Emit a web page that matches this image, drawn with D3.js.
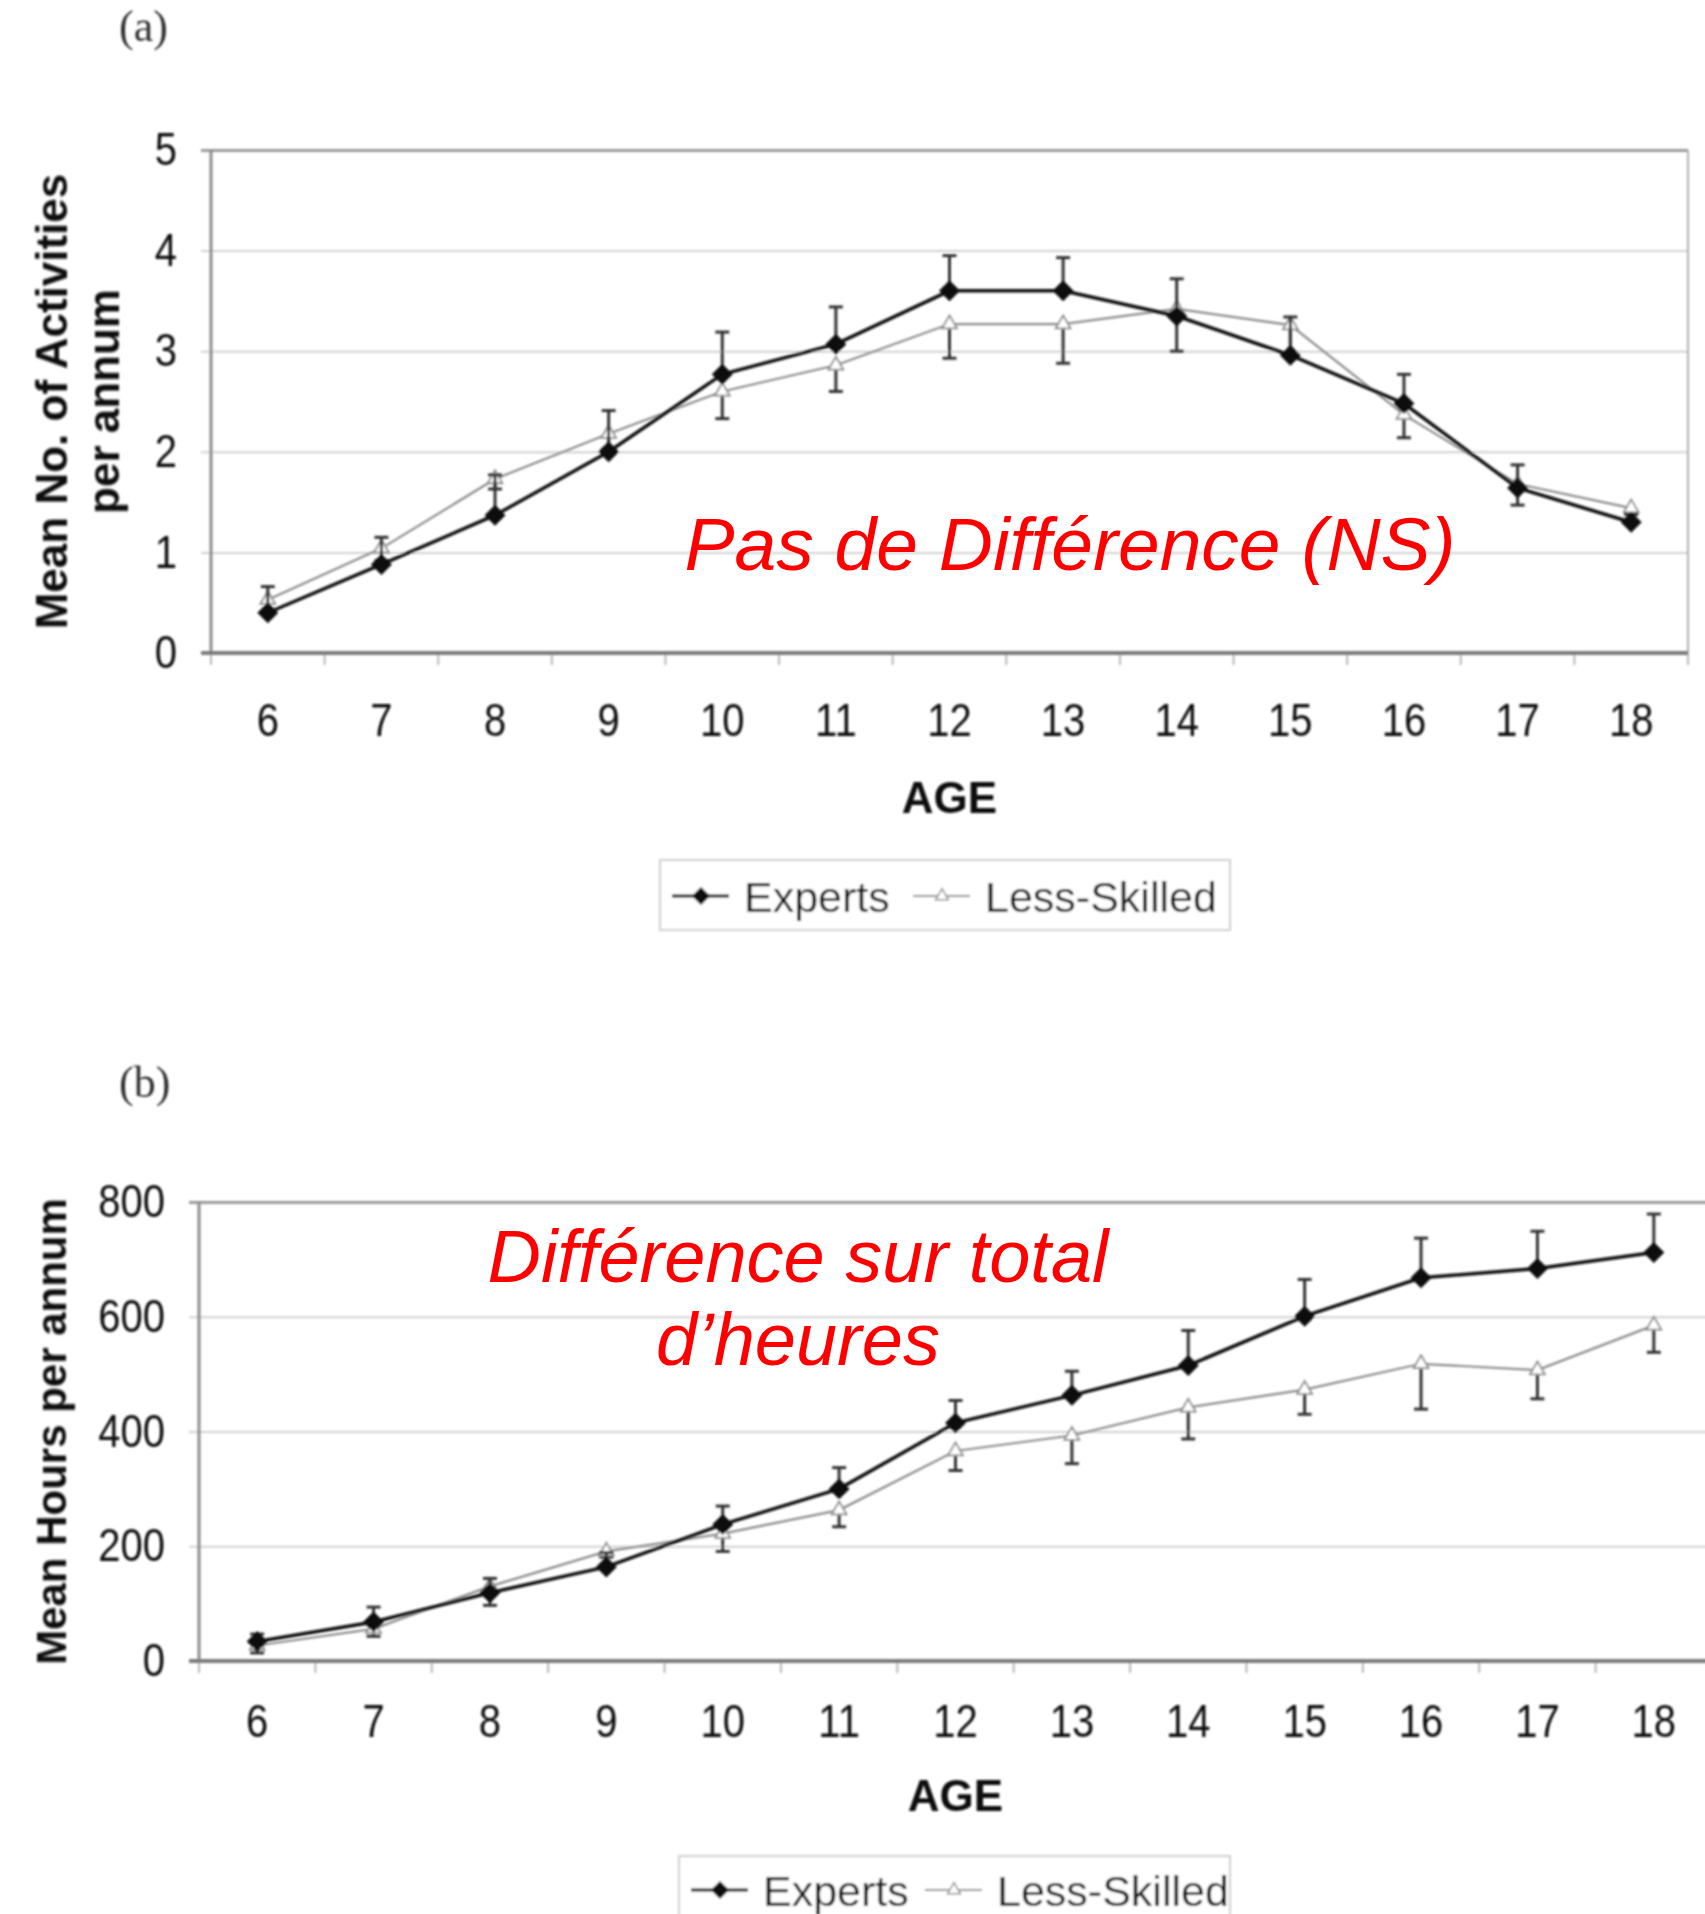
<!DOCTYPE html>
<html>
<head>
<meta charset="utf-8">
<script src="https://cdn.jsdelivr.net/npm/d3@7"></script>
<style>
  body { margin: 0; background: #fff; }
  svg { display: block; }
</style>
</head>
<body>
<script>
// ages on the x axis (both panels)
const ages = ["6", "7", "8", "9", "10", "11", "12", "13", "14", "15", "16", "17", "18"];
const seriesNames = ["Experts", "Less-Skilled"];

// panel (a): mean number of activities per annum
const activityTicks = [0, 1, 2, 3, 4, 5];
const expertsActivities = [0.4, 0.88, 1.37, 2.0, 2.77, 3.07, 3.6, 3.6, 3.35, 2.96, 2.48, 1.64, 1.3];
const expertsActivitiesErr = [0.26, 0.27, 0.4, 0.41, 0.42, 0.37, 0.35, 0.33, 0.37, 0.38, 0.29, 0.23, 0.08];
const lessActivities = [0.53, 1.04, 1.73, 2.18, 2.6, 2.86, 3.27, 3.27, 3.42, 3.26, 2.37, 1.68, 1.44];
const lessActivitiesErr = [0.15, 0.12, 0.1, 0.15, 0.27, 0.26, 0.34, 0.39, 0.42, 0.3, 0.23, 0.21, 0.06];

// panel (b): mean hours per annum
const hoursTicks = [0, 200, 400, 600, 800];
const expertsHours = [34, 68, 119, 164, 238, 300, 415, 463, 515, 601, 668, 684, 712];
const expertsHoursErr = [13, 26, 25, 25, 32, 37, 39, 42, 61, 64, 69, 65, 67];
const lessHours = [27, 56, 130, 191, 222, 263, 366, 393, 442, 473, 518, 507, 585];
const lessHoursErr = [13, 13, 33, 10, 31, 29, 34, 49, 55, 43, 79, 50, 47];

const W = 1705, H = 1914;
const svg = d3.select("body").append("svg").attr("width", W).attr("height", H);

// the scanned figure is a bit soft, blur the chart parts slightly
svg.append("defs").append("filter").attr("id", "soft")
    .append("feGaussianBlur").attr("stdDeviation", 0.9);

function drawPanel(p) {
    const x = d3.scaleBand().domain(ages).range([p.left, p.right]);
    const y = d3.scaleLinear().domain([0, p.max]).range([p.bottom, p.top]);
    const cx = function(a) { return x(a) + x.bandwidth() / 2; };

    const g = svg.append("g").attr("filter", "url(#soft)");

    // panel letter
    g.append("text")
        .attr("x", p.letterX).attr("y", p.letterY)
        .attr("font-family", "Liberation Serif").attr("font-size", 44)
        .attr("fill", "#333").text(p.letter);

    // y axis + gridlines
    const yAxis = g.append("g")
        .attr("transform", "translate(" + p.left + ",0)")
        .call(d3.axisLeft(y).tickValues(p.ticks)
            .tickSizeInner(-(p.right - p.left)).tickSizeOuter(0)
            .tickPadding(p.yPad).tickFormat(d3.format("d")));
    yAxis.select(".domain").remove();
    yAxis.selectAll(".tick line")
        .attr("x1", -10)
        .attr("stroke", function(d) { return d === p.max ? "#9a9a9a" : "#d0d0d0"; })
        .attr("stroke-width", function(d) { return d === p.max ? 3 : 2; });
    yAxis.selectAll(".tick text")
        .attr("font-family", "Liberation Sans").attr("font-size", 46)
        .attr("fill", "#111")
        .attr("x", -p.yPad / 0.87)
        .attr("transform", "scale(0.87,1)");

    // frame
    g.append("line")
        .attr("x1", p.left).attr("x2", p.left).attr("y1", p.top).attr("y2", p.bottom)
        .attr("stroke", "#8c8c8c").attr("stroke-width", 3);
    g.append("line")
        .attr("x1", p.right).attr("x2", p.right).attr("y1", p.top).attr("y2", p.bottom)
        .attr("stroke", "#b0b0b0").attr("stroke-width", 2);

    // x axis
    const xAxis = g.append("g")
        .attr("transform", "translate(0," + p.bottom + ")")
        .call(d3.axisBottom(x).tickSize(0).tickPadding(p.xPad));
    xAxis.select(".domain").remove();
    xAxis.selectAll(".tick text")
        .attr("font-family", "Liberation Sans").attr("font-size", 46)
        .attr("fill", "#111")
        .attr("transform", "scale(0.87,1)");

    // small ticks between categories
    const edges = ages.map(function(a) { return x(a); }).concat([p.right]);
    g.selectAll(null).data(edges).enter().append("line")
        .attr("x1", function(d) { return d; }).attr("x2", function(d) { return d; })
        .attr("y1", p.bottom).attr("y2", p.bottom + 12)
        .attr("stroke", "#b8b8b8").attr("stroke-width", 2);

    g.append("line")
        .attr("x1", p.left - 10).attr("x2", p.right)
        .attr("y1", p.bottom).attr("y2", p.bottom)
        .attr("stroke", "#7a7a7a").attr("stroke-width", 4);

    // axis titles
    g.append("text")
        .attr("x", (p.left + p.right) / 2 + p.ageShift).attr("y", p.ageY)
        .attr("text-anchor", "middle")
        .attr("font-family", "Liberation Sans").attr("font-weight", "bold")
        .attr("font-size", 44).attr("fill", "#111").text("AGE");

    p.yTitle.forEach(function(t, i) {
        g.append("text")
            .attr("transform", "translate(" + p.yTitleX[i] + "," + ((p.top + p.bottom) / 2) + ") rotate(-90)")
            .attr("text-anchor", "middle")
            .attr("font-family", "Liberation Sans").attr("font-weight", "bold")
            .attr("font-size", p.yTitleSize).attr("fill", "#111").text(t);
    });

    // series: less-skilled first, experts on top
    const series = [
        { values: p.less, err: p.lessErr, dir: -1, color: "#8c8c8c", width: 2.2, kind: "triangle" },
        { values: p.experts, err: p.expertsErr, dir: 1, color: "#111", width: 3.5, kind: "diamond" }
    ];

    const line = d3.line()
        .x(function(d, i) { return cx(ages[i]); })
        .y(function(d) { return y(d); });

    series.forEach(function(s) {
        // error bars (experts upward, less-skilled downward)
        const eb = g.append("g");
        s.values.forEach(function(v, i) {
            const xc = cx(ages[i]);
            const yEnd = y(v + s.dir * s.err[i]);
            eb.append("line")
                .attr("x1", xc).attr("x2", xc).attr("y1", y(v)).attr("y2", yEnd)
                .attr("stroke", "#333").attr("stroke-width", 3);
            eb.append("line")
                .attr("x1", xc - 7).attr("x2", xc + 7).attr("y1", yEnd).attr("y2", yEnd)
                .attr("stroke", "#333").attr("stroke-width", 3);
        });

        g.append("path").datum(s.values)
            .attr("d", line)
            .attr("fill", "none")
            .attr("stroke", s.color)
            .attr("stroke-width", s.width);

        const sym = s.kind === "diamond"
            ? d3.symbol(d3.symbolSquare, 170)
            : d3.symbol(d3.symbolTriangle, 95);
        g.selectAll(null).data(s.values).enter().append("path")
            .attr("d", sym)
            .attr("transform", function(d, i) {
                return "translate(" + cx(ages[i]) + "," + y(d) + ")" + (s.kind === "diamond" ? " rotate(45)" : "");
            })
            .attr("fill", s.kind === "diamond" ? "#111" : "#fff")
            .attr("stroke", s.kind === "diamond" ? "#111" : "#8c8c8c")
            .attr("stroke-width", 1.8);
    });

    // legend
    const lg = g.append("g");
    lg.append("rect")
        .attr("x", p.legend.x).attr("y", p.legend.y)
        .attr("width", p.legend.w).attr("height", p.legend.h)
        .attr("fill", "#fff").attr("stroke", "#cfcfcf").attr("stroke-width", 2);
    const ly = p.legend.y + p.legend.lineDy;
    const items = [
        { name: seriesNames[0], x0: p.legend.items[0], color: "#111", width: 3, kind: "diamond" },
        { name: seriesNames[1], x0: p.legend.items[1], color: "#8c8c8c", width: 2, kind: "triangle" }
    ];
    items.forEach(function(it) {
        lg.append("line")
            .attr("x1", it.x0).attr("x2", it.x0 + 57).attr("y1", ly).attr("y2", ly)
            .attr("stroke", it.color).attr("stroke-width", it.width);
        lg.append("path")
            .attr("d", it.kind === "diamond" ? d3.symbol(d3.symbolSquare, 130)() : d3.symbol(d3.symbolTriangle, 70)())
            .attr("transform", "translate(" + (it.x0 + 29) + "," + ly + ")" + (it.kind === "diamond" ? " rotate(45)" : ""))
            .attr("fill", it.kind === "diamond" ? "#111" : "#fff")
            .attr("stroke", it.color).attr("stroke-width", 1.5);
        lg.append("text")
            .attr("x", it.x0 + 72).attr("y", ly + 16)
            .attr("font-family", "Liberation Sans").attr("font-size", 43)
            .attr("fill", "#111").text(it.name);
    });

    // red annotation
    p.note.lines.forEach(function(t, i) {
        svg.append("text")
            .attr("x", p.note.x).attr("y", p.note.y + i * p.note.step)
            .attr("text-anchor", "middle")
            .attr("font-family", "Liberation Sans").attr("font-style", "italic")
            .attr("font-size", p.note.size).attr("fill", "#ff0000").text(t);
    });
}

drawPanel({
    letter: "(a)", letterX: 119, letterY: 41,
    left: 211, right: 1688, top: 150, bottom: 653,
    max: 5, ticks: activityTicks, yPad: 34, xPad: 50,
    ageY: 813, ageShift: 0,
    yTitle: ["Mean No. of Activities", "per annum"], yTitleX: [67, 119], yTitleSize: 44,
    experts: expertsActivities, expertsErr: expertsActivitiesErr,
    less: lessActivities, lessErr: lessActivitiesErr,
    legend: { x: 660, y: 860, w: 570, h: 70, lineDy: 36, items: [672, 913] },
    note: { lines: ["Pas de Différence (NS)"], x: 1070, y: 570, step: 0, size: 75 }
});

drawPanel({
    letter: "(b)", letterX: 119, letterY: 1097,
    left: 199, right: 1712, top: 1202, bottom: 1661,
    max: 800, ticks: hoursTicks, yPad: 34, xPad: 43,
    ageY: 1811, ageShift: 0,
    yTitle: ["Mean Hours per annum"], yTitleX: [66], yTitleSize: 42,
    experts: expertsHours, expertsErr: expertsHoursErr,
    less: lessHours, lessErr: lessHoursErr,
    legend: { x: 679, y: 1856, w: 551, h: 90, lineDy: 34, items: [691, 925] },
    note: { lines: ["Différence sur total", "d’heures"], x: 798, y: 1282, step: 83, size: 74 }
});
</script>
</body>
</html>
